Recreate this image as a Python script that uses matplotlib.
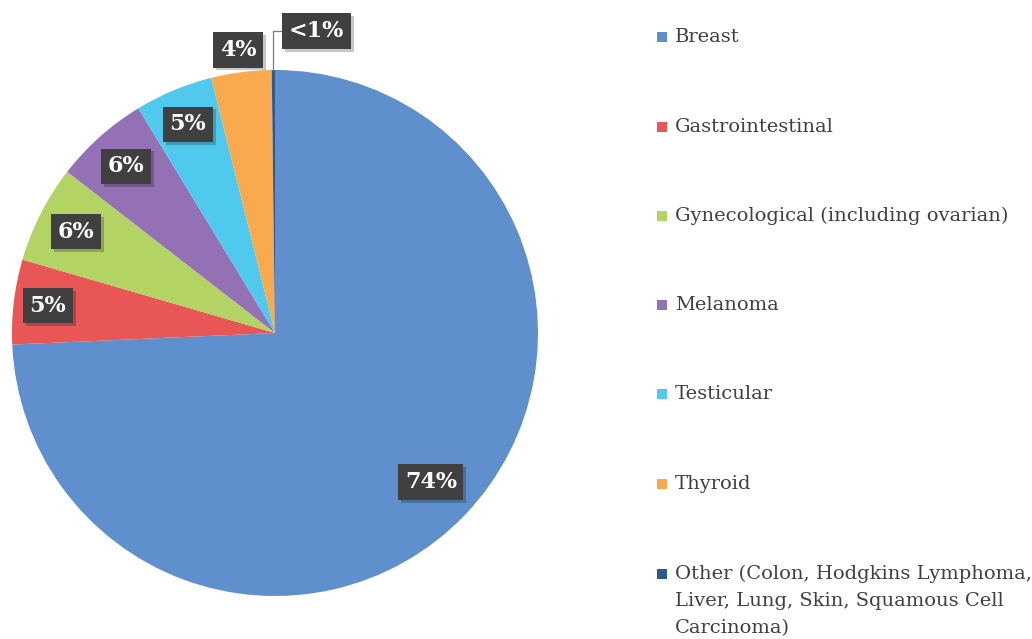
import matplotlib
matplotlib.use("Agg")
import matplotlib.pyplot as plt
import matplotlib.patheffects as pe
import numpy as np

categories = ["Breast", "Gastrointestinal", "Gynecological (including ovarian)",
              "Melanoma", "Testicular", "Thyroid",
              "Other (Colon, Hodgkins Lymphoma,\nLiver, Lung, Skin, Squamous Cell\nCarcinoma)"]
shares = [74.3, 5.2, 6.0, 5.8, 4.8, 3.7, 0.2]
pct_labels = ["74%", "5%", "6%", "6%", "5%", "4%", "<1%"]
colors = ["#5f8fcc", "#e85656", "#b4d365", "#9470b5", "#4fc9ee", "#f9aa4e", "#2c5a8e"]
label_dist = [0.82, 0.87, 0.85, 0.85, 0.86, 1.085, None]

W, H = 1032, 639
fig = plt.figure(figsize=(W / 100, H / 100), dpi=100)

# pie centre / radius in pixels
cx, cy, R = 275, 333, 263
ax = fig.add_axes([(cx - R) / W, (H - cy - R) / H, 2 * R / W, 2 * R / H])
wedges, _ = ax.pie(shares, colors=colors, startangle=90, counterclock=False,
                   wedgeprops=dict(linewidth=0))
ax.set_xlim(-1, 1)
ax.set_ylim(-1, 1)
ax.set_aspect("equal")

box_fx = [pe.SimplePatchShadow(offset=(2, -2), shadow_rgbFace="#000000", alpha=0.22),
          pe.Normal()]

def put_label(x, y, s):
    t = ax.text(x, y, s, ha="center", va="center", color="white", fontsize=16,
                fontweight="bold", family="DejaVu Serif", clip_on=False,
                bbox=dict(boxstyle="square,pad=0.3", facecolor="#404040",
                          edgecolor="none"))
    t.get_bbox_patch().set_path_effects(box_fx)
    return t

for w, lab, d in zip(wedges, pct_labels, label_dist):
    mid = np.deg2rad((w.theta1 + w.theta2) / 2)
    if d is not None:
        put_label(d * np.cos(mid), d * np.sin(mid), lab)
    else:
        # small slice: label above with leader line
        ex, ey = np.cos(mid), np.sin(mid)
        lx, ly = ex + 0.165, 1.148
        ax.plot([ex, ex, lx - 0.11], [ey, ly, ly], color="#7f7f7f", lw=0.9,
                clip_on=False, zorder=1)
        put_label(lx, ly, lab)

# legend
row_y = [37, 127, 216, 305, 394, 484, 574]
line_gap = 27
for name, col, y in zip(categories, colors, row_y):
    fig.patches.append(plt.Rectangle((657 / W, (H - y - 5) / H), 10 / W, 10 / H,
                                     transform=fig.transFigure, facecolor=col,
                                     edgecolor="none"))
    for i, line in enumerate(name.split("\n")):
        fig.text(675 / W, (H - y - i * line_gap) / H, line, ha="left", va="center",
                 fontsize=14, color="#404040", family="DejaVu Serif")

fig.savefig("out.png", dpi=100)
